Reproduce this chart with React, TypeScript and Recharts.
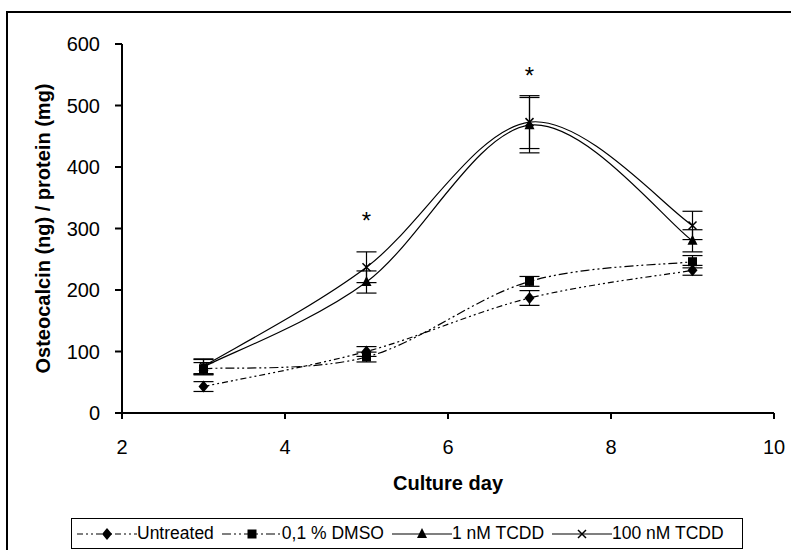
import React from 'react';
import { LineChart, Line, XAxis, YAxis, ErrorBar, ReferenceDot } from 'recharts';

const days = [3, 5, 7, 9];
const untreated = [43, 100, 187, 232];
const untreatedErr = [8, 8, 12, 8];
const dmso = [72, 91, 214, 246];
const dmsoErr = [10, 8, 8, 10];
const tcdd1 = [75, 213, 468, 280];
const tcdd1Err = [12, 18, 45, 18];
const tcdd100 = [76, 237, 473, 305];
const tcdd100Err = [12, 25, 43, 23];

const xTicks = [2, 4, 6, 8, 10];
const yTicks = [0, 100, 200, 300, 400, 500, 600];

const starDays = [5, 7];
const starValues = [317, 553];

const data = days.map((d, i) => ({
  day: d,
  untreated: untreated[i],
  untreatedErr: untreatedErr[i],
  dmso: dmso[i],
  dmsoErr: dmsoErr[i],
  tcdd1: tcdd1[i],
  tcdd1Err: tcdd1Err[i],
  tcdd100: tcdd100[i],
  tcdd100Err: tcdd100Err[i],
}));

const FONT = '"Liberation Sans", Arial, sans-serif';

// Excel-like smoothing (Catmull-Rom as cubic bezier)
function smooth(context: any) {
  let pts: number[][] = [];
  return {
    areaStart() {},
    areaEnd() {},
    lineStart() {
      pts = [];
    },
    point(x: number, y: number) {
      pts.push([+x, +y]);
    },
    lineEnd() {
      if (!pts.length) return;
      context.moveTo(pts[0][0], pts[0][1]);
      for (let i = 0; i < pts.length - 1; i++) {
        const p0 = pts[Math.max(i - 1, 0)];
        const p1 = pts[i];
        const p2 = pts[i + 1];
        const p3 = pts[Math.min(i + 2, pts.length - 1)];
        context.bezierCurveTo(
          p1[0] + (p2[0] - p0[0]) / 6,
          p1[1] + (p2[1] - p0[1]) / 6,
          p2[0] - (p3[0] - p1[0]) / 6,
          p2[1] - (p3[1] - p1[1]) / 6,
          p2[0],
          p2[1]
        );
      }
    },
  };
}

const Diamond = ({ cx, cy }: any) => (
  <path d={`M${cx},${cy - 6}L${cx + 5},${cy}L${cx},${cy + 6}L${cx - 5},${cy}Z`} fill="#000" />
);
const Square = ({ cx, cy }: any) => <rect x={cx - 4.5} y={cy - 4.5} width={9} height={9} fill="#000" />;
const Triangle = ({ cx, cy }: any) => (
  <path d={`M${cx},${cy - 6}L${cx + 5},${cy + 4}L${cx - 5},${cy + 4}Z`} fill="#000" />
);
const Cross = ({ cx, cy }: any) => (
  <path d={`M${cx - 4},${cy - 4}L${cx + 4},${cy + 4}M${cx + 4},${cy - 4}L${cx - 4},${cy + 4}`} stroke="#000" strokeWidth={1.5} fill="none" />
);

const dotFn = (Comp: any) => (props: any) => <Comp key={`${props.dataKey}-${props.index}`} cx={props.cx} cy={props.cy} />;

const series = [
  { key: 'untreated', name: 'Untreated', dash: '6 3 2 3 2 3', marker: Diamond },
  { key: 'dmso', name: '0,1 % DMSO', dash: '9 3 2 3 2 3', marker: Square },
  { key: 'tcdd1', name: '1 nM TCDD', dash: undefined, marker: Triangle },
  { key: 'tcdd100', name: '100 nM TCDD', dash: undefined, marker: Cross },
];

const LegendBox = () => (
  <div
    style={{
      position: 'absolute',
      left: 71,
      top: 518,
      width: 665,
      height: 29,
      border: '1px solid #000',
      display: 'flex',
      alignItems: 'center',
      justifyContent: 'flex-start',
      paddingLeft: 5,
      boxSizing: 'content-box',
      fontFamily: FONT,
      fontSize: 17.5,
      background: '#fff',
    }}
  >
    {series.map((s) => (
      <div key={s.key} style={{ display: 'flex', alignItems: 'center', marginRight: 8 }}>
        <svg width={60} height={16}>
          <line x1={0} y1={8} x2={60} y2={8} stroke="#000" strokeWidth={1.2} strokeDasharray={s.dash} />
          <s.marker cx={30} cy={8} />
        </svg>
        <span>{s.name}</span>
      </div>
    ))}
  </div>
);

export default function App() {
  return (
    <div style={{ position: 'absolute', left: 0, top: 0, width: 791, height: 550, overflow: 'hidden', background: '#fff' }}>
      <div style={{ position: 'absolute', left: 6, top: 11, width: 900, height: 700, border: '2px solid #000' }} />
      <div style={{ position: 'absolute', left: 0, top: 0 }}>
        <LineChart width={791} height={550} data={data} margin={{ top: 44, right: 17, left: 22, bottom: 52 }}>
          <XAxis
            dataKey="day"
            type="number"
            domain={[2, 10]}
            ticks={xTicks}
            axisLine={{ stroke: '#000', strokeWidth: 2 }}
            tickLine={{ stroke: '#000', strokeWidth: 2 }}
            tickSize={6}
            tickMargin={21}
            height={85}
            tick={{ fill: '#000', fontSize: 20, fontFamily: FONT }}
            label={{
              content: ({ viewBox }: any) => (
                <text
                  x={viewBox.x + viewBox.width / 2}
                  y={483}
                  textAnchor="middle"
                  dominantBaseline="central"
                  fontFamily={FONT}
                  fontWeight="bold"
                  fontSize={20}
                  fill="#000"
                >
                  Culture day
                </text>
              ),
            }}
          />
          <YAxis
            type="number"
            domain={[0, 600]}
            ticks={yTicks}
            width={100}
            axisLine={{ stroke: '#000', strokeWidth: 2 }}
            tickLine={{ stroke: '#000', strokeWidth: 2 }}
            tickSize={7}
            tickMargin={15}
            tick={{ fill: '#000', fontSize: 20, fontFamily: FONT }}
            label={{
              content: ({ viewBox }: any) => {
                const x = 43;
                const y = viewBox.y + viewBox.height / 2;
                return (
                  <text
                    x={x}
                    y={y}
                    transform={`rotate(-90, ${x}, ${y})`}
                    textAnchor="middle"
                    dominantBaseline="central"
                    fontFamily={FONT}
                    fontWeight="bold"
                    fontSize={20}
                    fill="#000"
                  >
                    Osteocalcin (ng) / protein (mg)
                  </text>
                );
              },
            }}
          />
          {series.map((s) => (
            <Line
              key={s.key}
              dataKey={s.key}
              name={s.name}
              type={smooth as any}
              stroke="#000"
              strokeWidth={1.2}
              strokeDasharray={s.dash}
              dot={dotFn(s.marker)}
              activeDot={false}
              isAnimationActive={false}
            >
              <ErrorBar dataKey={`${s.key}Err`} width={10} stroke="#000" strokeWidth={1.2} direction="y" />
            </Line>
          ))}
          {starDays.map((d, i) => (
            <ReferenceDot
              key={d}
              x={d}
              y={starValues[i]}
              r={0}
              shape={(p: any) => (
                <text x={p.cx} y={p.cy + 11} textAnchor="middle" fontFamily={FONT} fontSize={24} fill="#000">
                  *
                </text>
              )}
            />
          ))}
        </LineChart>
      </div>
      <LegendBox />
    </div>
  );
}
